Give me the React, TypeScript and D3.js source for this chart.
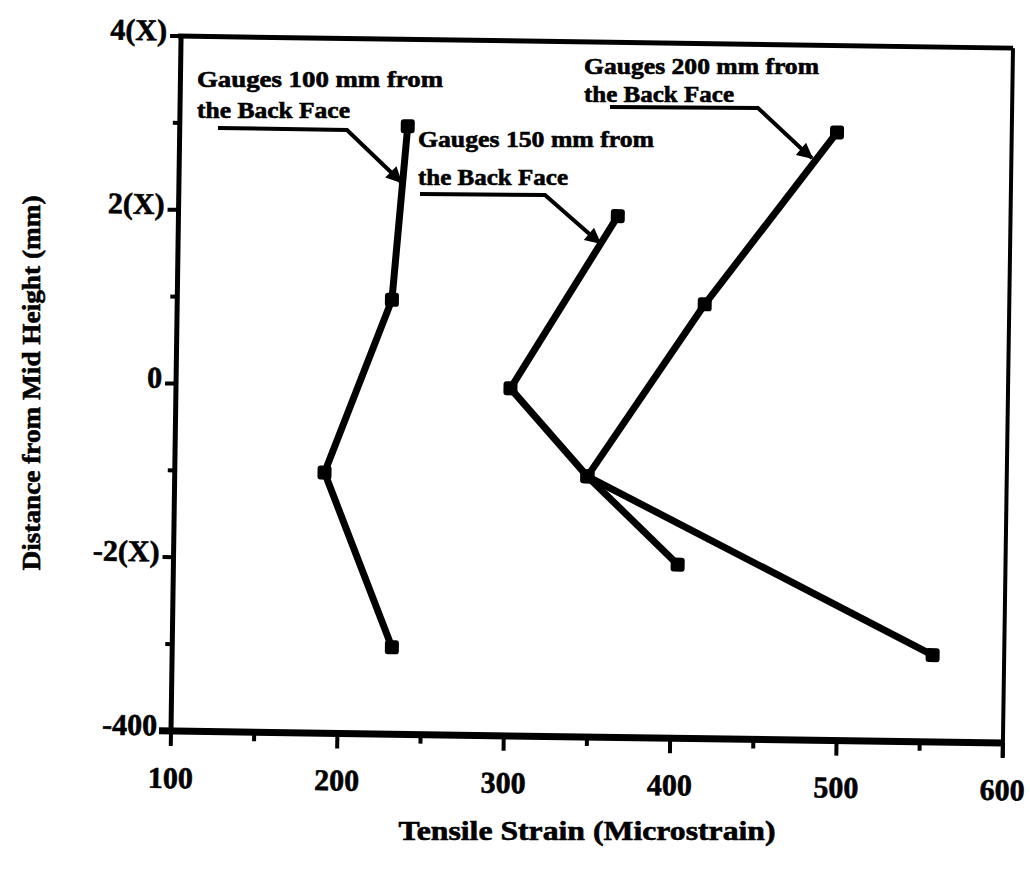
import React from "react";
import * as d3 from "d3";

// ---- data ----
const heights100 = [300, 100, -100, -300];
const strain100 = [237, 229, 190, 232];

const heights150 = [200, 0, -100, -200];
const strain150 = [364, 301, 348, 403];

const heights200 = [300, 100, -100, -300];
const strain200 = [495, 417, 348, 557];

const xTickValues = [100, 200, 300, 400, 500, 600];
const xTickLabels = ["100", "200", "300", "400", "500", "600"];
const xMinorValues = [150, 250, 350, 450, 550];
const yTickValues = [-400, -200, 0, 200, 400];
const yTickLabels = ["-400", "-2(X)", "0", "2(X)", "4(X)"];
const yMinorValues = [-300, -100, 100, 300];

const seriesNames = [
  ["Gauges 100 mm from", "the Back Face"],
  ["Gauges 150 mm from", "the Back Face"],
  ["Gauges 200 mm from", "the Back Face"],
];

const xTitle = "Tensile Strain (Microstrain)";
const yTitle = "Distance from Mid Height (mm)";

const FONT = "'Liberation Serif', 'DejaVu Serif', serif";

export default function App() {
  const left = 171, right = 1003, top = 36, bottom = 731;
  const x = d3.scaleLinear().domain([100, 600]).range([left, right]);
  const y = d3.scaleLinear().domain([-400, 400]).range([bottom, top]);

  const series = [
    { s: strain100, h: heights100 },
    { s: strain150, h: heights150 },
    { s: strain200, h: heights200 },
  ];
  const line = d3
    .line<[number, number]>()
    .x((d) => x(d[0]))
    .y((d) => y(d[1]));

  const textStyle = {
    fontFamily: FONT,
    fontWeight: 700 as const,
    fill: "#000",
    stroke: "#000",
    strokeWidth: 0.6,
  };

  // annotation layout (pixel space)
  const annotations = [
    { tx: 197, ty1: 87, ty2: 118, w1: 246, w2: 153, path: "M218,128 L347,130 L396,177", tip: [401, 182] },
    { tx: 418, ty1: 147, ty2: 185, w1: 236, w2: 150, path: "M420,194 L545,195 L594,238", tip: [600, 243] },
    { tx: 584, ty1: 74, ty2: 102, w1: 235, w2: 150, path: "M610,107 L758,108 L806,153", tip: [812, 158] },
  ];

  return (
    <svg
      width={1030}
      height={875}
      style={{ position: "absolute", left: 0, top: 0, background: "#fff" }}
    >
      <defs>
        <marker
          id="arr"
          viewBox="0 0 10 10"
          refX="9"
          refY="5"
          markerWidth="5"
          markerHeight="4"
          orient="auto"
          markerUnits="strokeWidth"
        >
          <path d="M0,0 L10,5 L0,10 z" fill="#000" />
        </marker>
      </defs>
      <rect x={0} y={0} width={1030} height={875} fill="#fff" />
      <g transform={`rotate(0.83, ${left}, ${bottom})`}>
        {/* frame */}
        <line x1={left - 3} x2={right} y1={top} y2={top} stroke="#000" strokeWidth={5} />
        <line x1={right} x2={right} y1={top} y2={bottom + 14} stroke="#000" strokeWidth={4} />
        <line x1={left} x2={left} y1={top - 2} y2={bottom} stroke="#000" strokeWidth={5} />
        <line x1={left - 12} x2={right} y1={bottom} y2={bottom} stroke="#000" strokeWidth={7} />
        {/* x ticks */}
        {xTickValues.map((v) => (
          <line key={"xt" + v} x1={x(v)} x2={x(v)} y1={bottom} y2={bottom + 15} stroke="#000" strokeWidth={4} />
        ))}
        {xMinorValues.map((v) => (
          <line key={"xm" + v} x1={x(v)} x2={x(v)} y1={bottom} y2={bottom + 9} stroke="#000" strokeWidth={4} />
        ))}
        {xTickValues.map((v, i) => (
          <text key={"xl" + v} x={x(v)} y={bottom + 57} textAnchor="middle" fontSize={30} style={textStyle}>
            {xTickLabels[i]}
          </text>
        ))}
        {/* y ticks */}
        {yTickValues.map((v) => (
          <line key={"yt" + v} x1={left - 11} x2={left} y1={y(v)} y2={y(v)} stroke="#000" strokeWidth={4} />
        ))}
        {yMinorValues.map((v) => (
          <line key={"ym" + v} x1={left - 7} x2={left} y1={y(v)} y2={y(v)} stroke="#000" strokeWidth={4} />
        ))}
        {yTickValues.map((v, i) => (
          <text
            key={"yl" + v}
            x={left - 14}
            y={y(v) - 6}
            dy="0.35em"
            textAnchor="end"
            fontSize={30}
            style={textStyle}
          >
            {yTickLabels[i]}
          </text>
        ))}
        {/* series */}
        {series.map((se, k) => {
          const pts: [number, number][] = se.s.map((v, i) => [v, se.h[i]]);
          return (
            <g key={"s" + k}>
              <path d={line(pts) || ""} fill="none" stroke="#000" strokeWidth={7} strokeLinejoin="round" />
              {pts.map((p, i) => (
                <rect
                  key={i}
                  x={x(p[0]) - 7}
                  y={y(p[1]) - 7}
                  width={14}
                  height={14}
                  rx={3}
                  fill="#000"
                />
              ))}
            </g>
          );
        })}
      </g>
      {/* annotations */}
      {annotations.map((a, k) => (
        <g key={"a" + k}>
          <text x={a.tx} y={a.ty1} fontSize={23} textLength={a.w1} lengthAdjust="spacingAndGlyphs" style={textStyle}>
            {seriesNames[k][0]}
          </text>
          <text x={a.tx} y={a.ty2} fontSize={23} textLength={a.w2} lengthAdjust="spacingAndGlyphs" style={textStyle}>
            {seriesNames[k][1]}
          </text>
          <path
            d={`${a.path} L${a.tip[0]},${a.tip[1]}`}
            fill="none"
            stroke="#000"
            strokeWidth={4}
            markerEnd="url(#arr)"
          />
        </g>
      ))}
      {/* axis titles */}
      <text x={587} y={840} textAnchor="middle" fontSize={27} textLength={377} lengthAdjust="spacingAndGlyphs" style={textStyle}>
        {xTitle}
      </text>
      <text
        transform={`translate(40, 383) rotate(-90)`}
        textAnchor="middle"
        fontSize={26}
        textLength={375}
        lengthAdjust="spacingAndGlyphs"
        style={textStyle}
      >
        {yTitle}
      </text>
    </svg>
  );
}
